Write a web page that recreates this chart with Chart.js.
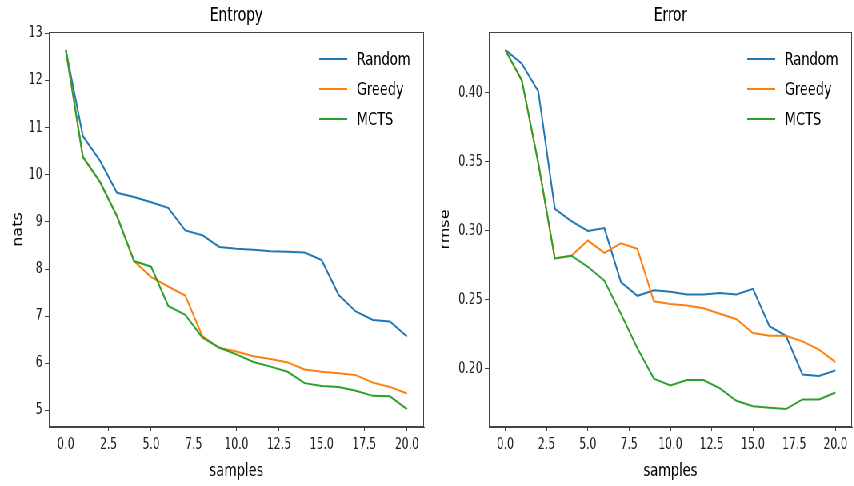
<!DOCTYPE html>
<html>
<head>
<meta charset="utf-8">
<script src="https://cdn.jsdelivr.net/npm/chart.js@4.4.0/dist/chart.umd.min.js"></script>
<style>
  html, body { margin: 0; padding: 0; background: #fff; overflow: hidden; }
  /* the figure is laid out wide and then condensed horizontally */
  #wrap { position: relative; width: 1068px; height: 486px; transform: scaleX(0.8); transform-origin: 0 0; }
  .panel { position: absolute; top: 0; width: 534px; height: 486px; }
</style>
</head>
<body>
<div id="wrap">
  <div class="panel" style="left:0"><canvas id="entropy" width="534" height="486"></canvas></div>
  <div class="panel" style="left:534px"><canvas id="error" width="534" height="486"></canvas></div>
</div>
<script>
// Number of samples taken (x axis)
const samples = [0, 1, 2, 3, 4, 5, 6, 7, 8, 9, 10, 11, 12, 13, 14, 15, 16, 17, 18, 19, 20];
const seriesNames = ['Random', 'Greedy', 'MCTS'];
const seriesColors = ['#1f77b4', '#ff7f0e', '#2ca02c'];

// Entropy (nats)
const entropyRandom = [12.65, 10.82, 10.3, 9.62, 9.53, 9.42, 9.3, 8.82, 8.72, 8.47, 8.43, 8.41, 8.38, 8.37, 8.35, 8.19, 7.45, 7.1, 6.92, 6.89, 6.57];
const entropyGreedy = [12.65, 10.38, 9.85, 9.12, 8.17, 7.83, 7.63, 7.44, 6.58, 6.33, 6.25, 6.15, 6.09, 6.02, 5.87, 5.82, 5.79, 5.75, 5.59, 5.5, 5.36];
const entropyMCTS   = [12.65, 10.38, 9.85, 9.12, 8.17, 8.05, 7.22, 7.03, 6.55, 6.33, 6.19, 6.03, 5.93, 5.82, 5.58, 5.52, 5.5, 5.42, 5.31, 5.3, 5.03];

// Error (rmse)
const errorRandom = [0.431, 0.421, 0.401, 0.316, 0.307, 0.300, 0.302, 0.263, 0.253, 0.257, 0.256, 0.254, 0.254, 0.255, 0.254, 0.258, 0.231, 0.224, 0.196, 0.195, 0.199];
const errorGreedy = [0.431, 0.409, 0.349, 0.280, 0.282, 0.293, 0.284, 0.291, 0.287, 0.249, 0.247, 0.246, 0.244, 0.240, 0.236, 0.226, 0.224, 0.224, 0.220, 0.214, 0.205];
const errorMCTS   = [0.431, 0.409, 0.349, 0.280, 0.282, 0.274, 0.264, 0.240, 0.215, 0.193, 0.188, 0.192, 0.192, 0.186, 0.177, 0.173, 0.172, 0.171, 0.178, 0.178, 0.183];

// Tick labels
const xTicks = [0, 2.5, 5, 7.5, 10, 12.5, 15, 17.5, 20];
const entropyTicks = [5, 6, 7, 8, 9, 10, 11, 12, 13];
const errorTicks = [0.20, 0.25, 0.30, 0.35, 0.40];

const FONT = "'DejaVu Sans Condensed', 'DejaVu Sans', sans-serif";
Chart.defaults.font.family = FONT;

// Frame, title and in-axes legend, drawn like a matplotlib axes
const axesDecor = {
  id: 'axesDecor',
  afterDraw(chart, args, opts) {
    const { ctx, chartArea: a } = chart;
    ctx.save();
    ctx.strokeStyle = '#444';
    ctx.lineWidth = 1;
    ctx.strokeRect(a.left + 0.5, a.top + 0.5, a.right - a.left - 1, a.bottom - a.top - 1);

    ctx.fillStyle = '#000';
    ctx.font = '19px ' + FONT;
    ctx.textAlign = 'center';
    ctx.textBaseline = 'middle';
    ctx.fillText(opts.title, (a.left + a.right) / 2, 16);

    ctx.font = '18px ' + FONT;
    ctx.textAlign = 'left';
    chart.data.datasets.forEach((ds, i) => {
      const y = a.top + 27 + i * 30;
      ctx.strokeStyle = ds.borderColor;
      ctx.lineWidth = 2;
      ctx.beginPath();
      ctx.moveTo(a.right - 131, y);
      ctx.lineTo(a.right - 96, y);
      ctx.stroke();
      ctx.fillStyle = '#000';
      ctx.fillText(ds.label, a.right - 84, y + 1);
    });
    ctx.restore();
  }
};

function padded(values) {
  const lo = Math.min(...values), hi = Math.max(...values);
  const m = (hi - lo) * 0.05;
  return { min: lo - m, max: hi + m };
}

function makeChart(id, title, yLabel, series, yTicks, yWidth, rightPad, fmt) {
  const lim = padded(series.flat());
  return new Chart(document.getElementById(id), {
    type: 'line',
    data: {
      datasets: series.map((vals, i) => ({
        label: seriesNames[i],
        data: samples.map((x, j) => ({ x: x, y: vals[j] })),
        borderColor: seriesColors[i],
        backgroundColor: seriesColors[i],
        borderWidth: 2,
        pointRadius: 0,
        tension: 0,
        fill: false,
        order: series.length - i
      }))
    },
    options: {
      responsive: false,
      animation: false,
      layout: { padding: { top: 32, right: rightPad, left: 0, bottom: 0 } },
      plugins: {
        legend: { display: false },
        tooltip: { enabled: false },
        axesDecor: { title: title }
      },
      scales: {
        x: {
          type: 'linear',
          min: -1,
          max: 21,
          afterBuildTicks: s => { s.ticks = xTicks.map(v => ({ value: v })); },
          afterFit: s => { s.height = 59; },
          grid: { display: true, drawOnChartArea: false, drawTicks: true, tickLength: 4, color: '#444' },
          border: { display: true, color: '#444' },
          ticks: { color: '#222', font: { size: 15 }, padding: 5, maxRotation: 0, autoSkip: false,
                   callback: v => v.toFixed(1) },
          title: { display: true, text: 'samples', color: '#000', font: { size: 18 }, padding: { top: 0, bottom: 4 } }
        },
        y: {
          type: 'linear',
          min: lim.min,
          max: lim.max,
          afterBuildTicks: s => { s.ticks = yTicks.map(v => ({ value: v })); },
          afterFit: s => { s.width = yWidth; },
          grid: { display: true, drawOnChartArea: false, drawTicks: true, tickLength: 5, color: '#444' },
          border: { display: true, color: '#444' },
          ticks: { color: '#222', font: { size: 15 }, padding: 3, autoSkip: false, callback: fmt },
          title: { display: true, text: yLabel, color: '#000',
                   font: { size: 16, family: "'DejaVu Sans', sans-serif" }, padding: { top: 13, bottom: 0 } }
        }
      }
    },
    plugins: [axesDecor]
  });
}

makeChart('entropy', 'Entropy', 'nats', [entropyRandom, entropyGreedy, entropyMCTS], entropyTicks, 61, 4, v => String(v));
makeChart('error', 'Error', 'rmse', [errorRandom, errorGreedy, errorMCTS], errorTicks, 77, 3, v => v.toFixed(2));
</script>
</body>
</html>
